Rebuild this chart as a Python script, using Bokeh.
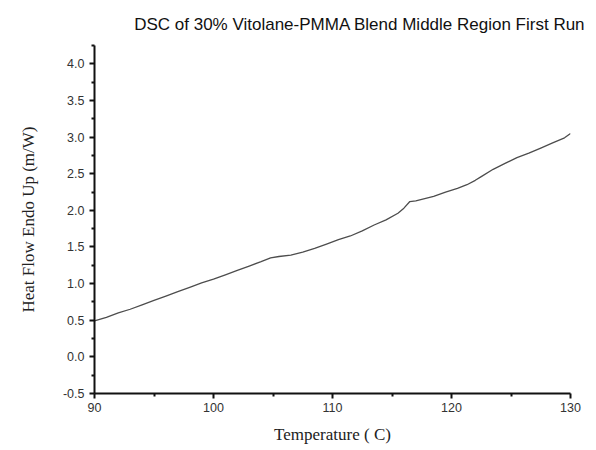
from bokeh.plotting import figure
from bokeh.models import FixedTicker, Range1d, CustomJSTickFormatter
from bokeh.embed import file_html
from bokeh.resources import INLINE

title_text = "DSC of 30% Vitolane-PMMA Blend Middle Region First Run"
x_label = "Temperature ( C)"
y_label = "Heat Flow Endo Up (m/W)"

temperature = [90, 91, 92, 93, 94, 95, 96, 97, 98, 99, 100, 101, 102, 103, 104, 104.8,
               105.5, 106.5, 107.5, 108.5, 109.5, 110.5, 111.5, 112.5, 113.5, 114.5, 115.5,
               116.0, 116.5, 117.0, 117.5, 118.5, 119.5, 120.5, 121.3, 122.0, 122.5, 123.5,
               124.5, 125.5, 126.5, 127.5, 128.5, 129.5, 130]
heat_flow = [0.49, 0.54, 0.60, 0.65, 0.71, 0.77, 0.83, 0.89, 0.95, 1.01, 1.06, 1.12, 1.18,
             1.24, 1.30, 1.35, 1.37, 1.39, 1.43, 1.48, 1.54, 1.60, 1.65, 1.72, 1.80, 1.87,
             1.96, 2.03, 2.12, 2.13, 2.15, 2.19, 2.25, 2.30, 2.35, 2.41, 2.46, 2.56, 2.64,
             2.72, 2.78, 2.85, 2.92, 2.99, 3.05]

x_ticks = [90, 100, 110, 120, 130]
x_minor = [95, 105, 115, 125]
y_ticks = [-0.5, 0.0, 0.5, 1.0, 1.5, 2.0, 2.5, 3.0, 3.5, 4.0]
y_minor = [-0.25, 0.25, 0.75, 1.25, 1.75, 2.25, 2.75, 3.25, 3.75, 4.25]

p = figure(width=596, height=450, output_backend="svg", toolbar_location=None,
           x_range=Range1d(90, 130), y_range=Range1d(-0.5, 4.25),
           min_border_left=94, min_border_right=26, min_border_top=45, min_border_bottom=57)

p.title.text = title_text
p.title.align = "right"
p.title.text_font = "Liberation Sans"
p.title.text_font_size = "17px"
p.title.text_font_style = "normal"
p.title.text_color = "#111111"
p.title.standoff = 23
p.title.offset = -15

p.line(temperature, heat_flow, line_color="#4d4d4d", line_width=1.3)

p.grid.visible = False
p.outline_line_color = None

for ax in (p.xaxis[0], p.yaxis[0]):
    ax.axis_line_color = "#111111"
    ax.axis_line_width = 2
    ax.major_tick_line_color = "#111111"
    ax.major_tick_line_width = 2
    ax.minor_tick_line_color = "#111111"
    ax.minor_tick_line_width = 2
    ax.major_tick_out = 5
    ax.major_tick_in = 0
    ax.minor_tick_out = 3
    ax.minor_tick_in = 0
    ax.major_label_text_font = "Liberation Sans"
    ax.major_label_text_font_size = "12.5px"
    ax.major_label_text_color = "#333333"
    ax.axis_label_text_font = "Liberation Serif"
    ax.axis_label_text_font_size = "17px"
    ax.axis_label_text_font_style = "normal"
    ax.axis_label_text_color = "#222222"

p.xaxis.ticker = FixedTicker(ticks=x_ticks, minor_ticks=x_minor)
p.yaxis.ticker = FixedTicker(ticks=y_ticks, minor_ticks=y_minor)
p.yaxis.formatter = CustomJSTickFormatter(code="return tick.toFixed(1);")
p.xaxis.axis_label = x_label
p.yaxis.axis_label = y_label
p.xaxis.major_label_standoff = 4
p.yaxis.major_label_standoff = 5
p.xaxis.axis_label_standoff = 10
p.yaxis.axis_label_standoff = 22

open("out.html", "w").write(file_html(p, INLINE))
